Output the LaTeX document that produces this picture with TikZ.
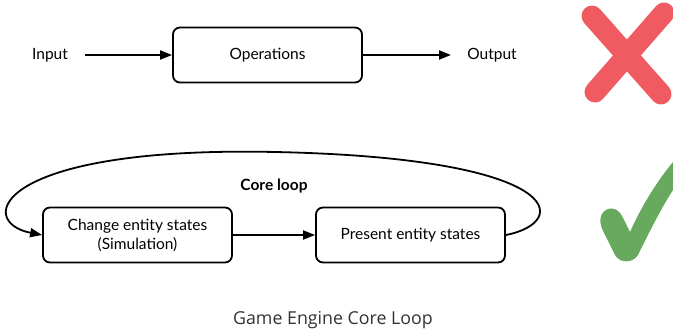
\documentclass[tikz,border=0pt]{standalone}
\usepackage{fontspec}
\setmainfont{Lato}
\newfontfamily\captionfont{Open Sans}
\usetikzlibrary{arrows.meta}
\definecolor{crossred}{HTML}{F05A61}
\definecolor{tickgreen}{HTML}{67AA5D}
\definecolor{captiongray}{HTML}{333333}
\tikzset{
  stagebox/.style={draw, line width=1.8pt, rounded corners=7pt, minimum width=189pt, minimum height=55pt, align=center, font=\fontsize{15.5}{19}\selectfont},
  plain/.style={font=\fontsize{15.5}{19}\selectfont},
  flow/.style={line width=1.8pt, -{Triangle[length=12pt,width=9pt]}},
}
\begin{document}
\begin{tikzpicture}[x=1pt,y=-1pt]
\useasboundingbox (0,0) rectangle (673,331);

% naive pipeline
\node[plain] (in) at (50,55) {Input};
\node[stagebox] (ops) at (267.5,55) {Operations};
\node[plain] (out) at (492,55) {Output};
\coordinate (inend) at (85,55);
\coordinate (outend) at (451,55);
\draw[flow] (inend) -- (ops.west);
\draw[flow] (ops.east) -- (outend);

% cross mark
\draw[crossred, line width=21pt, line cap=round] (592,16) -- (661,94);
\draw[crossred, line width=21pt, line cap=round] (664,13) -- (595,92);

% core loop
\node[stagebox] (sim) at (137.5,235) {Change entity states\\(Simulation)};
\node[stagebox] (pres) at (410.5,235) {Present entity states};
\node[font=\fontsize{15.5}{19}\selectfont\bfseries] (lbl) at (274,186) {Core loop};
\draw[flow] (sim.east) -- (pres.west);
\coordinate (top) at (275,152);
\draw[flow]
  (pres.east) .. controls (572,222) and (565,158) .. (top)
  .. controls (-5,146) and (-25,222) .. (sim.west);

% check mark
\fill[tickgreen]
  (601,216) .. controls (605,206) and (617,206) .. (622,216)
  -- (630,232)
  .. controls (642,205) and (658,180) .. (673,162)
  -- (673,190)
  .. controls (660,210) and (648,235) .. (638,255)
  .. controls (633,263) and (620,264) .. (615,255)
  -- (603,231)
  .. controls (600,225) and (600,220) .. (601,216) -- cycle;

% caption
\node[font=\captionfont\fontsize{17.8}{22}\selectfont, text=captiongray] (cap) at (333,320) {Game Engine Core Loop};
\end{tikzpicture}
\end{document}
